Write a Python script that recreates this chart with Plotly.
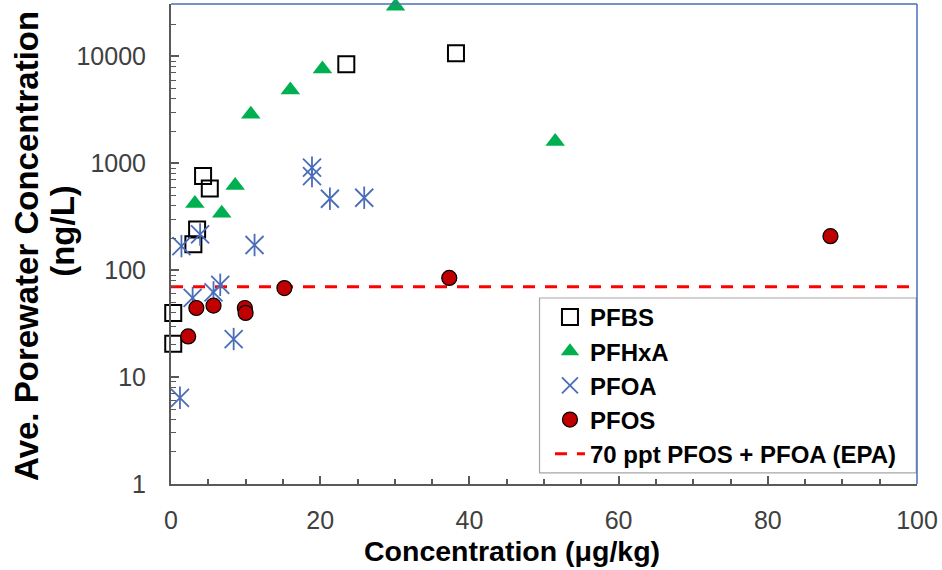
import plotly.graph_objects as go

# ---- data ----
pfbs_x = [0.3, 0.3, 3.0, 3.5, 4.3, 5.2, 23.5, 38.2]
pfbs_y = [20.5, 39.8, 175, 240, 760, 580, 8450, 10700]

pfhxa_x = [3.2, 6.8, 8.6, 10.7, 16.0, 20.3, 30.1, 51.5]
pfhxa_y = [420, 340, 620, 2870, 4850, 7600, 29500, 1600]

pfoa_x = [1.2, 1.4, 3.9, 2.9, 5.7, 6.6, 8.4, 11.2, 18.9, 18.9, 21.3, 25.9]
pfoa_y = [6.4, 168, 216, 55, 62, 73, 22.7, 172, 910, 760, 466, 476]

pfos_x = [2.3, 3.4, 5.7, 9.9, 10.0, 15.2, 37.3, 88.4]
pfos_y = [24, 44.3, 46.6, 44.3, 39.8, 68, 84.7, 208]

epa_x = [0, 100]
epa_y = [70, 70]

y_tickvals = [1, 10, 100, 1000, 10000]
y_ticktext = ["1", "10", "100", "1000", "10000"]
x_tickvals = [0, 20, 40, 60, 80, 100]

FONT = "Liberation Sans"
BLUE = "#4A6DB8"

fig = go.Figure()

fig.add_trace(go.Scatter(
    x=epa_x, y=epa_y, mode="lines", name="70 ppt PFOS + PFOA (EPA)",
    line=dict(color="#FF0000", width=3, dash="12px,10px"),
    legendrank=5, legendgroup="e"))

fig.add_trace(go.Scatter(
    x=pfbs_x, y=pfbs_y, mode="markers", name="PFBS", legendrank=1, legendgroup="a",
    cliponaxis=False,
    marker=dict(symbol="square-open", size=16, color="black", line=dict(width=2, color="black"))))

fig.add_trace(go.Scatter(
    x=pfhxa_x, y=pfhxa_y, mode="markers", name="PFHxA", legendrank=2, legendgroup="b",
    cliponaxis=False,
    marker=dict(symbol="triangle-up", size=17, color="#00B050", line=dict(width=0))))

fig.add_trace(go.Scatter(
    x=pfoa_x, y=pfoa_y, mode="markers", name="PFOA", legendrank=3, legendgroup="c",
    cliponaxis=False,
    marker=dict(symbol="x-thin-open", size=18, color=BLUE, line=dict(width=1.8, color=BLUE))))
fig.add_trace(go.Scatter(
    x=pfoa_x, y=pfoa_y, mode="markers", name="PFOA", showlegend=False, legendgroup="c",
    cliponaxis=False, hoverinfo="skip",
    marker=dict(symbol="line-ns-open", size=16, color=BLUE, line=dict(width=1.8, color=BLUE))))

fig.add_trace(go.Scatter(
    x=pfos_x, y=pfos_y, mode="markers", name="PFOS", legendrank=4, legendgroup="d",
    cliponaxis=False,
    marker=dict(symbol="circle", size=15, color="#C00000", line=dict(width=1.2, color="black"))))

minor_y = [m * 10 ** e for e in range(0, 5) for m in range(2, 10) if m * 10 ** e < 30000]

fig.update_layout(
    width=942, height=570,
    margin=dict(l=171, r=22, t=4, b=86),
    paper_bgcolor="white", plot_bgcolor="white",
    font=dict(family=FONT, color="#404040", size=24),
    showlegend=True,
    legend=dict(
        x=0.508, y=0.394, xanchor="left", yanchor="top",
        bgcolor="rgba(0,0,0,0)", borderwidth=0,
        font=dict(family=FONT, size=24, color="black", weight="bold"),
        tracegroupgap=3, traceorder="normal",
    ),
    xaxis=dict(
        range=[0, 100], tickvals=x_tickvals, showgrid=False, zeroline=False,
        showline=True, linecolor="#595959", linewidth=2,
        ticks="inside", ticklen=8, tickwidth=1.5, tickcolor="#595959",
        ticklabelstandoff=13,
        minor=dict(ticks="inside", ticklen=5, tickwidth=1.5, tickcolor="#595959", dtick=5),
        tickfont=dict(family=FONT, size=25, color="#404040"),
    ),
    yaxis=dict(
        type="log", range=[0, 4.49], tickvals=y_tickvals, ticktext=y_ticktext,
        showgrid=False, zeroline=False,
        showline=True, linecolor="#595959", linewidth=2,
        ticks="inside", ticklen=8, tickwidth=1.5, tickcolor="#595959",
        ticklabelstandoff=18,
        minor=dict(ticks="inside", ticklen=5, tickwidth=1.2, tickcolor="#595959",
                   tickvals=minor_y),
        tickfont=dict(family=FONT, size=25, color="#404040"),
    ),
    shapes=[
        dict(type="line", xref="paper", yref="paper", x0=0, x1=1, y0=1, y1=1,
             line=dict(color=BLUE, width=1.5)),
        dict(type="line", xref="paper", yref="paper", x0=1, x1=1, y0=0, y1=1,
             line=dict(color=BLUE, width=1.5)),
        dict(type="rect", xref="paper", yref="paper", x0=0.494, x1=0.999, y0=0.023, y1=0.3875,
             line=dict(color="#A6A6A6", width=1.2), fillcolor="white", layer="below"),
    ],
    annotations=[
        dict(text="<b>Concentration (μg/kg)</b>", xref="paper", yref="paper",
             x=0.4575, y=-0.1396, xanchor="center", yanchor="middle", showarrow=False,
             font=dict(family=FONT, size=28.5, color="black")),
        dict(text="<b>Ave. Porewater Concentration</b>", xref="paper", yref="paper",
             x=-0.193, y=0.496, xanchor="center", yanchor="middle", showarrow=False,
             textangle=-90, font=dict(family=FONT, size=33, color="black")),
        dict(text="<b>(ng/L)</b>", xref="paper", yref="paper",
             x=-0.1464, y=0.527, xanchor="center", yanchor="middle", showarrow=False,
             textangle=-90, font=dict(family=FONT, size=33, color="black")),
    ],
)

fig.write_html("out.html", config={"displayModeBar": False},
               post_script="document.body.style.margin='0';")
